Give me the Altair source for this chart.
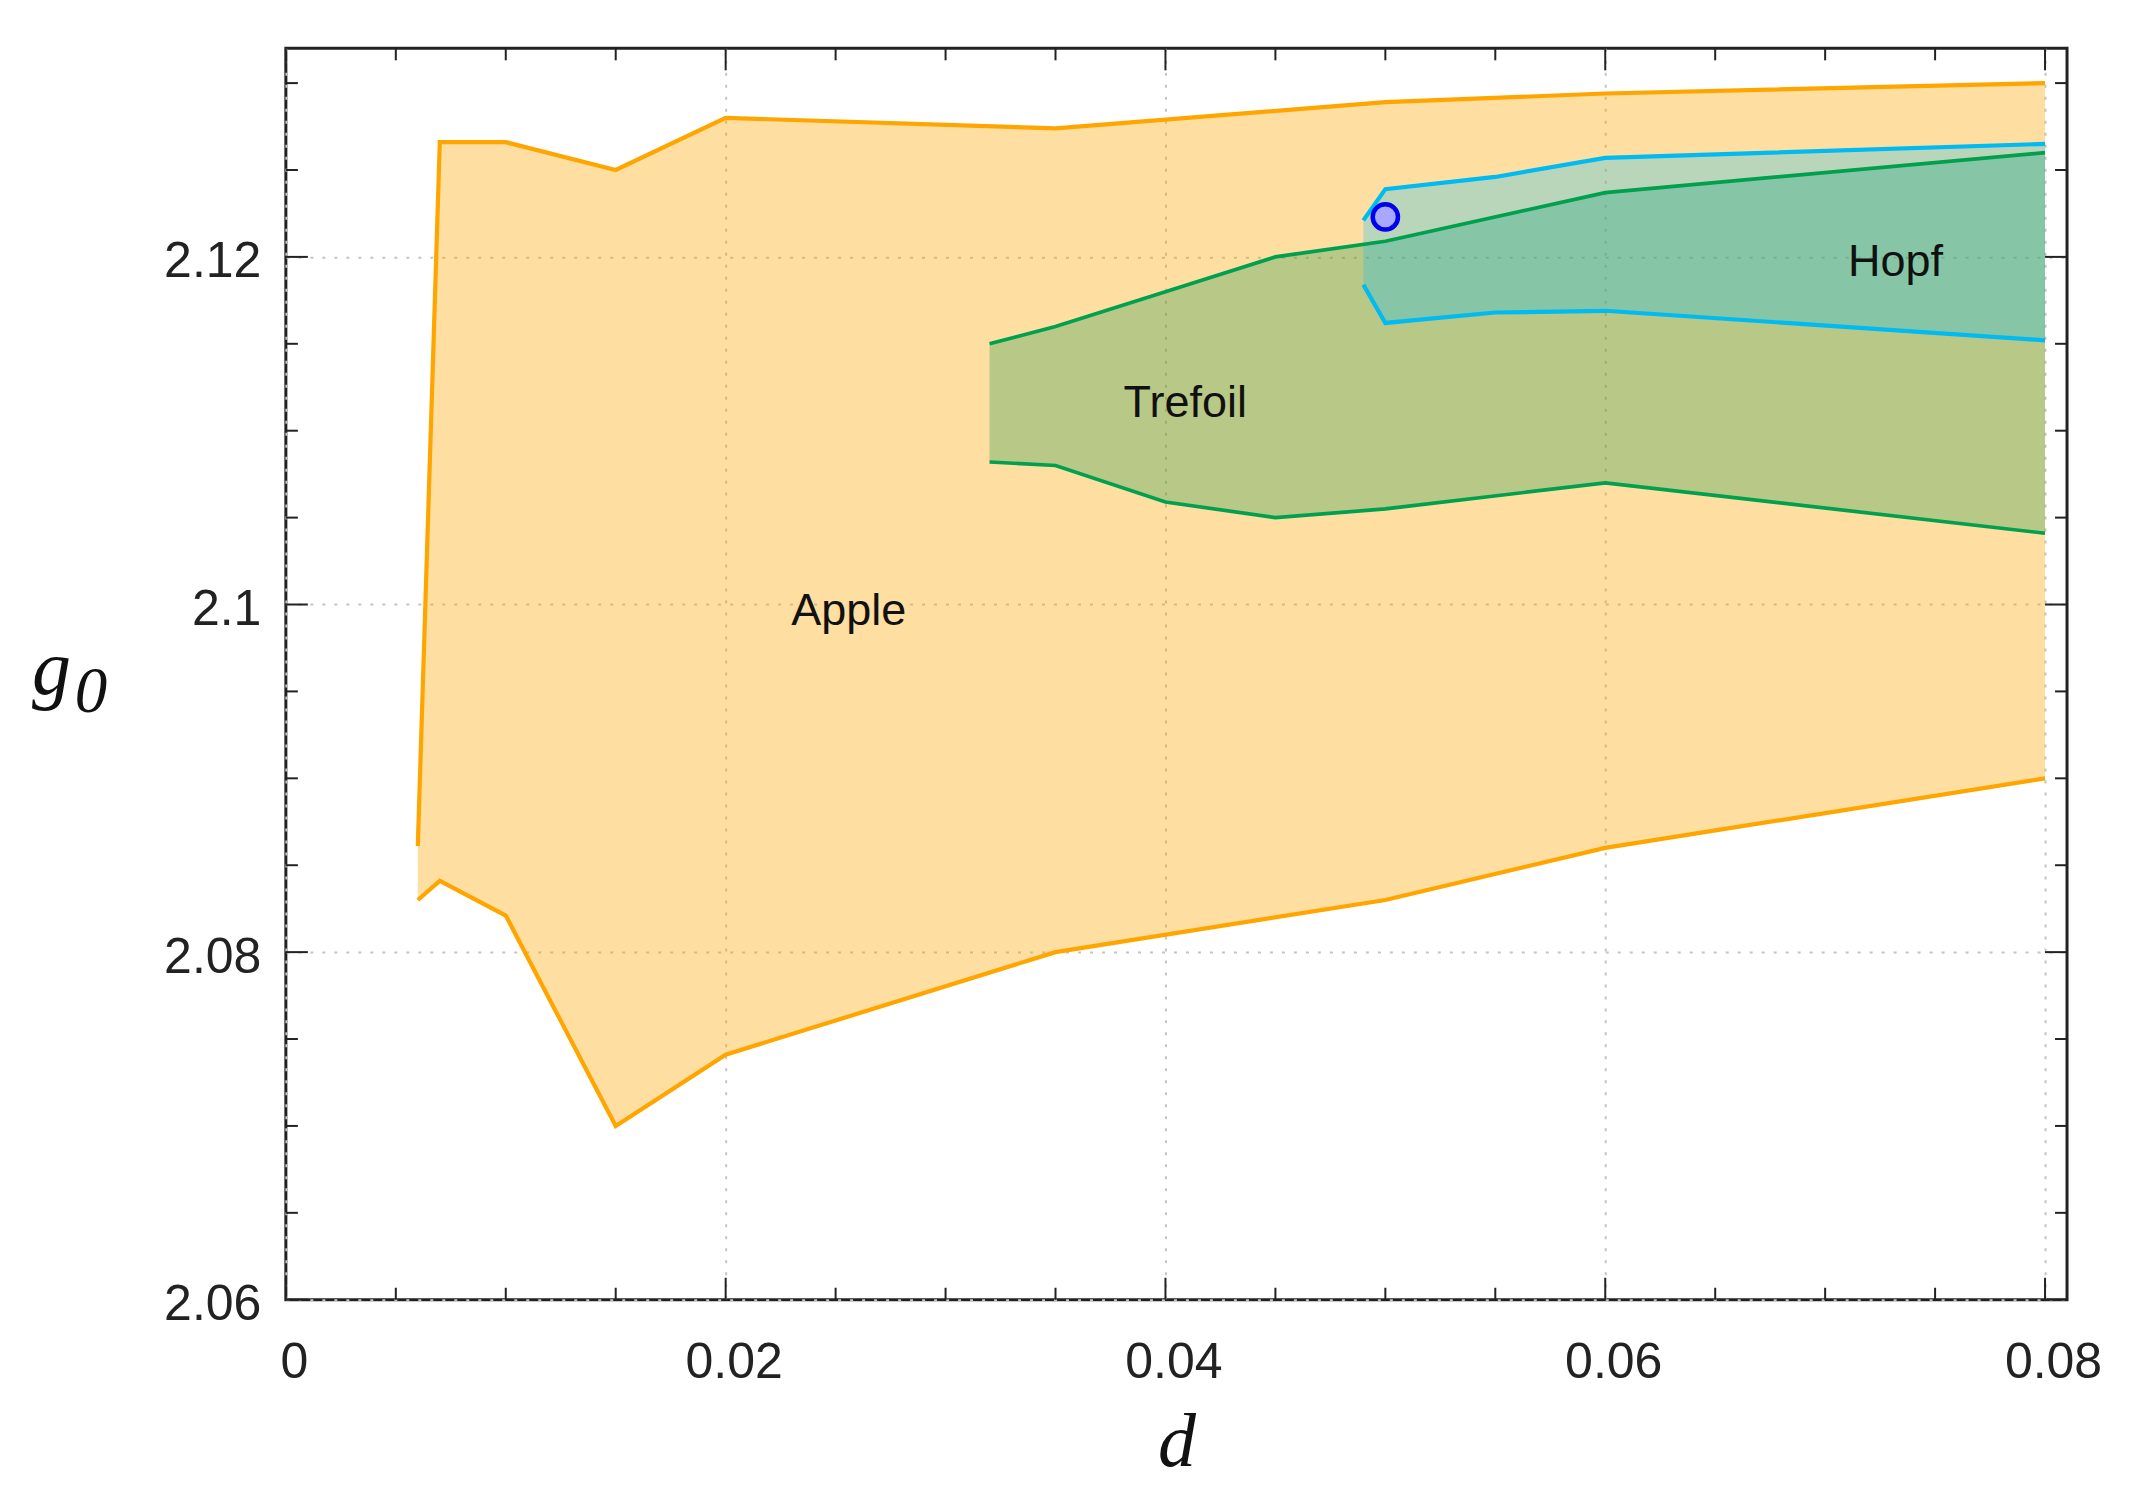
import altair as alt
import pandas as pd

# ---------------- data ----------------
# Apple region (orange)
apple_d = [0.006, 0.007, 0.010, 0.015, 0.020, 0.035, 0.050, 0.060, 0.080]
apple_lo = [2.0830, 2.0841, 2.0821, 2.0700, 2.0741, 2.0800, 2.0830, 2.0860, 2.0900]
apple_hi = [2.0861, 2.1266, 2.1266, 2.1250, 2.1280, 2.1274, 2.1289, 2.1294, 2.1300]

# Trefoil region (green)
tre_d = [0.032, 0.035, 0.040, 0.045, 0.050, 0.060, 0.080]
tre_lo = [2.1082, 2.1080, 2.1059, 2.1050, 2.1055, 2.1070, 2.1041]
tre_hi = [2.1150, 2.1160, 2.1180, 2.1200, 2.1209, 2.1237, 2.1260]

# Hopf region (cyan)
hopf_d = [0.049, 0.050, 0.055, 0.060, 0.080]
hopf_lo = [2.1184, 2.1162, 2.1168, 2.1169, 2.1152]
hopf_hi = [2.1221, 2.1239, 2.1246, 2.1257, 2.1265]

# marked point
point_d = [0.0500]
point_g = [2.1223]

# region labels
label_text = ["Apple", "Trefoil", "Hopf"]
label_d = [0.0256, 0.0409, 0.0732]
label_g = [2.0988, 2.1108, 2.1189]

# ticks
x_major = [0.0, 0.02, 0.04, 0.06, 0.08]
x_minor = [0.005, 0.01, 0.015, 0.025, 0.03, 0.035, 0.045, 0.05, 0.055,
           0.065, 0.07, 0.075]
y_major = [2.06, 2.08, 2.10, 2.12]
y_minor = [2.065, 2.07, 2.075, 2.085, 2.09, 2.095, 2.105, 2.11, 2.115,
           2.125, 2.13]

# axis title pieces
x_title = "d"
y_title = "g"
y_title_sub = "0"

# ---------------- build tables ----------------
def region_df(d, lo, hi):
    return pd.DataFrame({"d": d, "lo": lo, "hi": hi})


def edges_df(d, lo, hi):
    a = pd.DataFrame({"d": d, "g": lo, "edge": "lower"})
    b = pd.DataFrame({"d": d, "g": hi, "edge": "upper"})
    return pd.concat([a, b], ignore_index=True)


W, H = 1782, 1252
MAJ, MIN = 22, 12

xs = alt.Scale(domain=[0, 0.081], nice=False, zero=False)
ys = alt.Scale(domain=[2.06, 2.132], nice=False, zero=False)

grid_kw = dict(grid=True, gridDash=[3, 9], gridColor="#c4c4c4", gridWidth=2,
               ticks=False, domain=False, labelFont="Liberation Sans",
               labelFontSize=50, labelColor="#222222", labelFlush=False,
               titleFont="Liberation Serif", titleFontStyle="italic",
               titleFontWeight="normal", titleColor="#111111")

x_axis = alt.Axis(values=x_major, format="~g", title=x_title, labelPadding=38,
                  labelOffset=8, titlePadding=18, titleFontSize=76, **grid_kw)
y_axis = alt.Axis(values=y_major, format="~g", title=y_title, labelPadding=25,
                  labelOffset=5, titleAngle=0, titleX=-235, titleY=645,
                  titleAlign="center", titleBaseline="alphabetic",
                  titleFontSize=78, **grid_kw)


def X(field="d"):
    return alt.X(f"{field}:Q", scale=xs, axis=x_axis)


def Y(field="g"):
    return alt.Y(f"{field}:Q", scale=ys, axis=y_axis)


def area(d, lo, hi, color, op):
    return alt.Chart(region_df(d, lo, hi)).mark_area(
        fill=color, fillOpacity=op, strokeWidth=0
    ).encode(x=X(), y=Y("lo"), y2="hi:Q")


def edges(d, lo, hi, color, w):
    return alt.Chart(edges_df(d, lo, hi)).mark_line(
        color=color, strokeWidth=w
    ).encode(x=X(), y=Y(), detail="edge:N")


def ticks(vals, side, length):
    df = pd.DataFrame({"v": vals})
    m = alt.Chart(df).mark_rule(color="#222222", strokeWidth=2)
    if side == "bottom":
        return m.encode(x=X("v"), y=alt.value(H), y2=alt.value(H - length))
    if side == "top":
        return m.encode(x=X("v"), y=alt.value(0), y2=alt.value(length))
    if side == "left":
        return m.encode(y=Y("v"), x=alt.value(0), x2=alt.value(length))
    return m.encode(y=Y("v"), x=alt.value(W), x2=alt.value(W - length))


ORANGE = "#FFA500"
GREEN = "#00A04E"
CYAN = "#00BAF2"

layers = [
    area(apple_d, apple_lo, apple_hi, ORANGE, 0.37),
    area(tre_d, tre_lo, tre_hi, "#008E42", 0.28),
    area(hopf_d, hopf_lo, hopf_hi, "#00BFFF", 0.27),
    edges(apple_d, apple_lo, apple_hi, ORANGE, 4.2),
    edges(tre_d, tre_lo, tre_hi, GREEN, 3.7),
    edges(hopf_d, hopf_lo, hopf_hi, CYAN, 4.2),
    alt.Chart(pd.DataFrame({"d": point_d, "g": point_g})).mark_circle(
        size=640, fill="#A8A8FF", fillOpacity=1, stroke="#0000EE",
        strokeWidth=4.5, strokeOpacity=1
    ).encode(x=X(), y=Y()),
    alt.Chart(pd.DataFrame({"d": label_d, "g": label_g, "label": label_text})).mark_text(
        font="Liberation Sans", fontSize=45, color="#111111",
        align="center", baseline="alphabetic"
    ).encode(x=X(), y=Y(), text="label:N"),
    # subscript of the y-axis title (g_0)
    alt.Chart(pd.DataFrame({"t": [y_title_sub]})).mark_text(
        font="Liberation Serif", fontStyle="italic", fontSize=65,
        color="#111111", align="center", baseline="alphabetic"
    ).encode(x=alt.value(-195), y=alt.value(664), text="t:N"),
]
for side in ["bottom", "top"]:
    layers.append(ticks(x_major, side, MAJ))
    layers.append(ticks(x_minor, side, MIN))
for side in ["left", "right"]:
    layers.append(ticks(y_major, side, MAJ))
    layers.append(ticks(y_minor, side, MIN))

chart = alt.layer(*layers).properties(
    width=W, height=H,
    autosize=alt.AutoSizeParams(type="none"),
    padding={"left": 278, "top": 40, "right": 60, "bottom": 190},
    background="white",
).configure_view(stroke="#222222", strokeWidth=3)

chart.save("out.html", embed_options={"renderer": "svg", "actions": False})
